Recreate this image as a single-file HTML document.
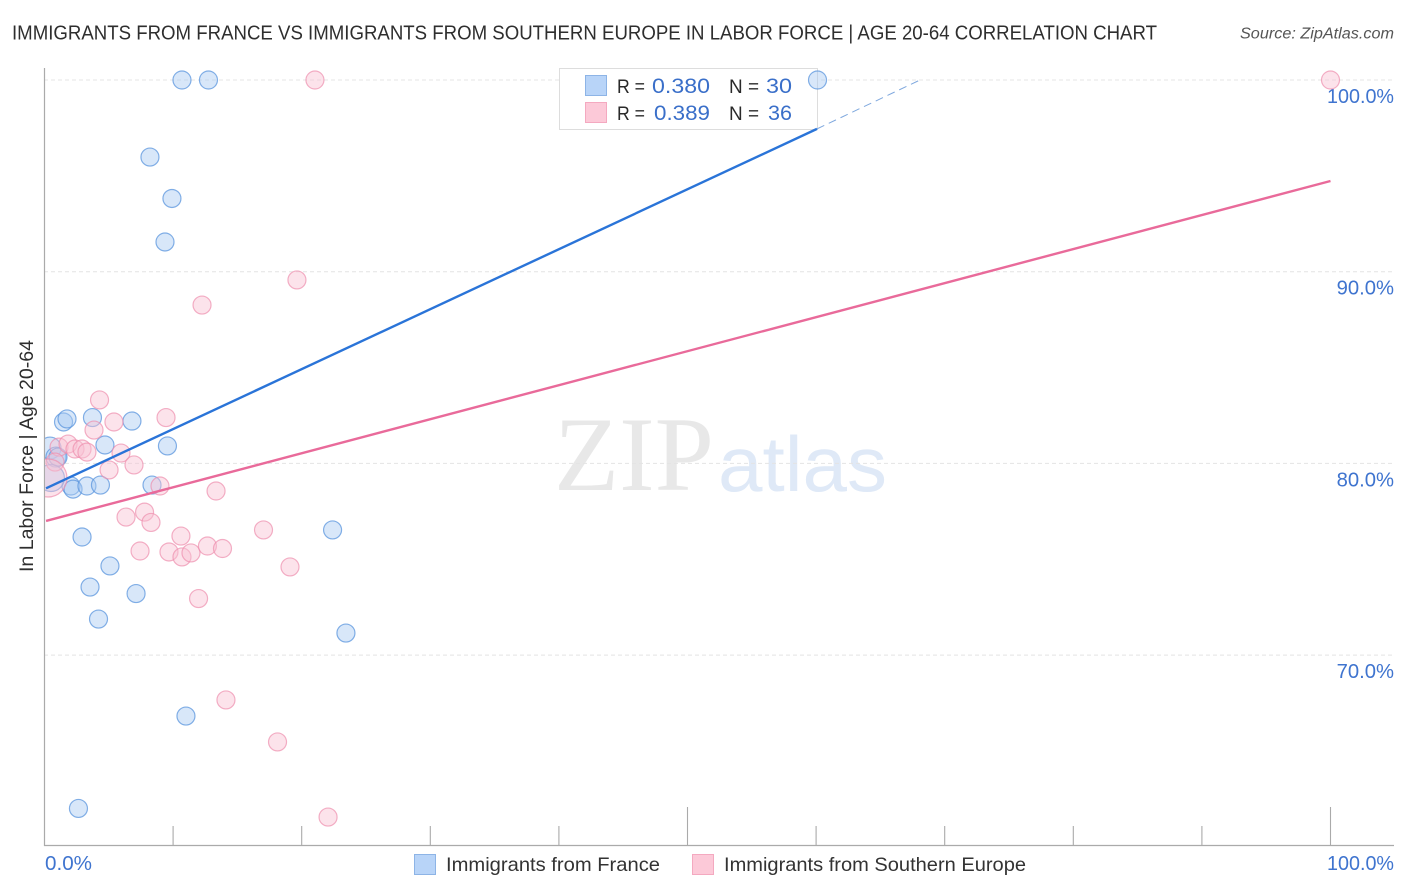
<!DOCTYPE html>
<html lang="en">
<head>
<meta charset="utf-8">
<title>Immigrants from France vs Immigrants from Southern Europe Correlation Chart</title>
<style>
html,body{margin:0;padding:0;background:#fff;}
svg{display:block;font-family:"Liberation Sans",sans-serif;}
</style>
</head>
<body>
<svg id="chart" width="1406" height="892" viewBox="0 0 1406 892" xmlns="http://www.w3.org/2000/svg">
  <defs>
    <clipPath id="plot-clip"><rect x="45" y="60" width="1349" height="785"/></clipPath>
  </defs>
  <text x="12" y="39.5" font-size="20" fill="#2e2e2e" textLength="1145" lengthAdjust="spacingAndGlyphs">IMMIGRANTS FROM FRANCE VS IMMIGRANTS FROM SOUTHERN EUROPE IN LABOR FORCE | AGE 20-64 CORRELATION CHART</text>
  <text x="1240" y="38.5" font-size="15.5" font-style="italic" fill="#555" textLength="154" lengthAdjust="spacingAndGlyphs">Source: ZipAtlas.com</text>

  <g>
    <text x="554" y="490" font-family="'Liberation Serif',serif" font-size="106" fill="#e8e8e8" textLength="160" lengthAdjust="spacingAndGlyphs">ZIP</text>
    <text x="718" y="491" font-size="78" fill="#dfe9f7" textLength="169" lengthAdjust="spacingAndGlyphs">atlas</text>
  </g>

  <g id="grid"></g>
  <g id="axes"></g>

  <g>
    <rect x="559.5" y="68.5" width="258" height="61" fill="#fff" stroke="#dddddd" stroke-width="1"/>
    <rect x="585.5" y="75.5" width="21" height="20" fill="#b8d4f8" stroke="#8db4e6"/>
    <rect x="585.5" y="102.5" width="21" height="20" fill="#fcc9d8" stroke="#f4a9c0"/>
    <text x="617" y="93" font-size="19.5" fill="#2a2a2a" textLength="28" lengthAdjust="spacingAndGlyphs">R =</text>
    <text x="652" y="93" font-size="21" fill="#3a6fc9" textLength="58" lengthAdjust="spacingAndGlyphs">0.380</text>
    <text x="729" y="93" font-size="19.5" fill="#2a2a2a" textLength="30" lengthAdjust="spacingAndGlyphs">N =</text>
    <text x="766" y="93" font-size="21" fill="#3a6fc9" textLength="26" lengthAdjust="spacingAndGlyphs">30</text>
    <text x="617" y="120" font-size="19.5" fill="#2a2a2a" textLength="28" lengthAdjust="spacingAndGlyphs">R =</text>
    <text x="654" y="120" font-size="21" fill="#3a6fc9" textLength="56" lengthAdjust="spacingAndGlyphs">0.389</text>
    <text x="729" y="120" font-size="19.5" fill="#2a2a2a" textLength="30" lengthAdjust="spacingAndGlyphs">N =</text>
    <text x="768" y="120" font-size="21" fill="#3a6fc9" textLength="24" lengthAdjust="spacingAndGlyphs">36</text>
  </g>

  <g id="points-france" clip-path="url(#plot-clip)"></g>
  <g id="points-europe" clip-path="url(#plot-clip)"></g>
  <g id="trends"></g>

  <text transform="translate(33 572) rotate(-90)" font-size="19" fill="#2e2e2e" textLength="232" lengthAdjust="spacingAndGlyphs">In Labor Force | Age 20-64</text>

  <g>
    <g>
      <rect x="414.5" y="854.5" width="21" height="20" fill="#b8d4f8" stroke="#8db4e6"/>
      <text x="446" y="871" font-size="19.5" fill="#333" textLength="214" lengthAdjust="spacingAndGlyphs">Immigrants from France</text>
    </g>
    <g>
      <rect x="692.5" y="854.5" width="21" height="20" fill="#fcc9d8" stroke="#f4a9c0"/>
      <text x="724" y="871" font-size="19.5" fill="#333" textLength="302" lengthAdjust="spacingAndGlyphs">Immigrants from Southern Europe</text>
    </g>
  </g>
</svg>
<script>
var yTicks = [100, 90, 80, 70];
var yTickLabels = ["100.0%", "90.0%", "80.0%", "70.0%"];
var xTicks = [0, 10, 20, 30, 40, 50, 60, 70, 80, 90, 100];
var xMajorTicks = [50, 100];
var xEndLabels = ["0.0%", "100.0%"];

var franceX = [10.69, 12.75, 60.11, 8.20, 9.91, 9.37, 1.48, 1.75, 3.73, 6.80, 4.70, 9.56, 0.43, 0.89, 1.05, 2.06, 2.22, 3.30, 4.35, 8.36, 2.92, 5.09, 3.54, 7.12, 4.20, 22.40, 23.44, 11.00, 2.64, 0.50];
var franceY = [100, 100, 100, 95.98, 93.82, 91.55, 82.16, 82.32, 82.39, 82.21, 80.96, 80.91, 80.80, 80.33, 80.33, 78.82, 78.66, 78.82, 78.87, 78.87, 76.16, 74.65, 73.55, 73.21, 71.88, 76.53, 71.15, 66.82, 62.00, 79.24];
var franceSize = [9, 9, 9, 9, 9, 9, 9, 9, 9, 9, 9, 9, 11, 10, 9, 9, 9, 9, 9, 9, 9, 9, 9, 9, 9, 9, 9, 9, 9, 13.5];

var europeX = [21.03, 100, 19.63, 12.25, 4.28, 9.45, 5.40, 3.85, 1.13, 1.83, 2.37, 2.92, 3.30, 5.95, 5.02, 6.96, 0.82, 8.98, 13.34, 6.34, 7.78, 8.28, 10.61, 17.03, 7.43, 9.68, 10.69, 11.39, 12.67, 13.84, 19.09, 11.98, 14.11, 18.12, 22.05, 0.27];
var europeY = [100, 100, 89.57, 88.26, 83.31, 82.39, 82.16, 81.74, 80.85, 81.01, 80.75, 80.75, 80.59, 80.54, 79.66, 79.92, 80.07, 78.82, 78.56, 77.20, 77.46, 76.92, 76.21, 76.53, 75.43, 75.38, 75.12, 75.33, 75.69, 75.56, 74.60, 72.95, 67.66, 65.47, 61.55, 79.24];
var europeSize = [9, 9, 9, 9, 9, 9, 9, 9, 9, 9, 9, 9, 9, 9, 9, 9, 9, 9, 9, 9, 9, 9, 9, 9, 9, 9, 9, 9, 9, 9, 9, 9, 9, 9, 9, 19];

var franceTrendX = [0.12, 60.07];
var franceTrendY = [78.70, 97.45];
var franceDashX = [60.07, 68.08];
var franceDashY = [97.45, 100];
var europeTrendX = [0.12, 100];
var europeTrendY = [77.00, 94.73];

function xScale(v) { return 44.5 + v * 12.86; }
function yScale(v) { return 80 + (100 - v) * 19.17; }

var NS = "http://www.w3.org/2000/svg";
function make(tag, attrs, parent) {
  var el = document.createElementNS(NS, tag);
  for (var k in attrs) { el.setAttribute(k, attrs[k]); }
  parent.appendChild(el);
  return el;
}

var grid = document.getElementById("grid");
var axes = document.getElementById("axes");

yTicks.forEach(function (t, i) {
  var line = make("line", { x1: 44, x2: 1394, y1: yScale(t), y2: yScale(t), stroke: "#e4e4e4", "stroke-width": 1, "stroke-dasharray": "4 3" }, grid);
  
  
  var label = make("text", { x: 1394, y: yScale(t) + 23, "text-anchor": "end", "font-size": 20, fill: "#3f74cf", textLength: yTickLabels[i].length * 9.6 + 9.4, lengthAdjust: "spacingAndGlyphs" }, axes);
  
  
  label.textContent = yTickLabels[i];
});

var yAxis = make("line", { x1: 44.5, x2: 44.5, y1: 68, y2: 846, stroke: "#aaaaaa", "stroke-width": 1.2 }, axes);


var xAxis = make("line", { x1: 44, x2: 1394, y1: 845.5, y2: 845.5, stroke: "#aaaaaa", "stroke-width": 1.2 }, axes);



xTicks.forEach(function (t) {
  if (t === 0) { return; }
  var top = xMajorTicks.indexOf(t) >= 0 ? 807 : 826;
  var tick = make("line", { x1: xScale(t), x2: xScale(t), y1: top, y2: 845, stroke: "#aaaaaa", "stroke-width": 1.1 }, axes);
  
  
});

var xLeft = make("text", { x: 45, y: 870, "font-size": 20, fill: "#3f74cf", textLength: 47, lengthAdjust: "spacingAndGlyphs" }, axes);


xLeft.textContent = xEndLabels[0];
var xRight = make("text", { x: 1394, y: 870, "text-anchor": "end", "font-size": 20, fill: "#3f74cf", textLength: 67, lengthAdjust: "spacingAndGlyphs" }, axes);


xRight.textContent = xEndLabels[1];

var franceGroup = document.getElementById("points-france");
franceX.forEach(function (v, i) {
  var c = make("circle", { cx: xScale(v), cy: yScale(franceY[i]), r: franceSize[i], fill: "#a9c9f2", "fill-opacity": 0.45, stroke: "#5b95dd", "stroke-opacity": 0.75, "stroke-width": 1.2 }, franceGroup);
  
  
});

var europeGroup = document.getElementById("points-europe");
europeX.forEach(function (v, i) {
  var c = make("circle", { cx: xScale(v), cy: yScale(europeY[i]), r: europeSize[i], fill: "#f9c0d2", "fill-opacity": 0.45, stroke: "#ee8fae", "stroke-opacity": 0.7, "stroke-width": 1.2 }, europeGroup);
  
  
});

var trends = document.getElementById("trends");
var t1 = make("line", { x1: xScale(franceTrendX[0]), y1: yScale(franceTrendY[0]), x2: xScale(franceTrendX[1]), y2: yScale(franceTrendY[1]), stroke: "#2a74d8", "stroke-width": 2.4 }, trends);


var t2 = make("line", { x1: xScale(franceDashX[0]), y1: yScale(franceDashY[0]), x2: xScale(franceDashX[1]), y2: yScale(franceDashY[1]), stroke: "#7fa8de", "stroke-width": 1, "stroke-dasharray": "8 5" }, trends);


var t3 = make("line", { x1: xScale(europeTrendX[0]), y1: yScale(europeTrendY[0]), x2: xScale(europeTrendX[1]), y2: yScale(europeTrendY[1]), stroke: "#e96a9a", "stroke-width": 2.4 }, trends);


</script>
</body>
</html>
